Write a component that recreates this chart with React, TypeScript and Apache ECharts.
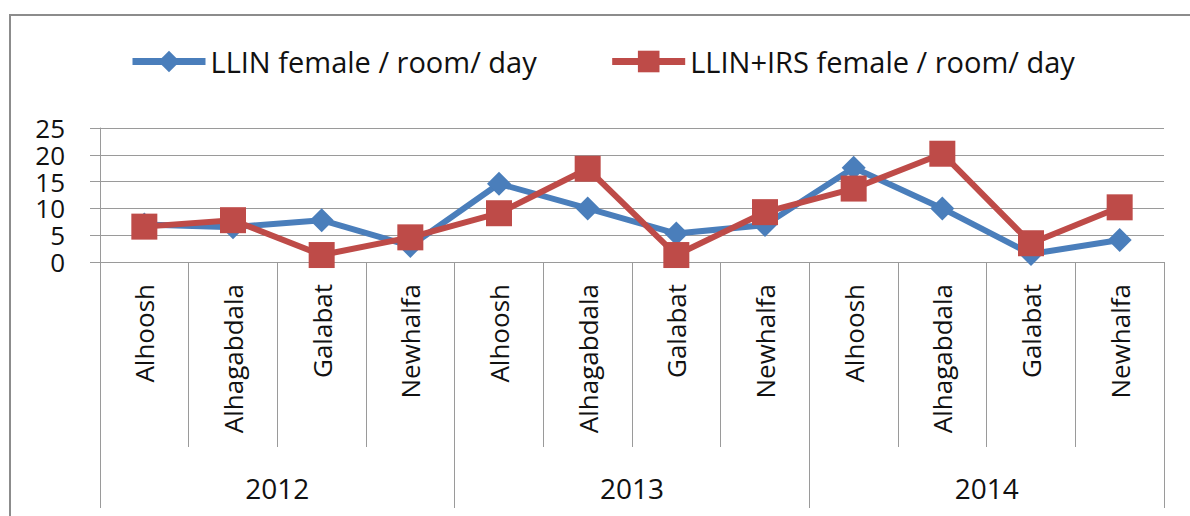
import React, { useEffect, useRef } from "react";
import * as echarts from "echarts";

const sites = ["Alhoosh", "Alhagabdala", "Galabat", "Newhalfa", "Alhoosh", "Alhagabdala", "Galabat", "Newhalfa", "Alhoosh", "Alhagabdala", "Galabat", "Newhalfa"];
const years = ["2012", "2013", "2014"];
const llin = [7.0, 6.5, 7.8, 3.0, 14.6, 10.0, 5.3, 6.9, 17.6, 10.0, 1.5, 4.1];
const llinIrs = [6.6, 7.8, 1.3, 4.6, 9.1, 17.4, 1.3, 9.3, 13.7, 20.2, 3.5, 10.2];
const yTicks = { min: 0, max: 25, interval: 5 };

const FONT = "Open Sans";

export default function App() {
  const ref = useRef<HTMLDivElement>(null);
  useEffect(() => {
    document.body.style.margin = "0";
    const chart = echarts.init(ref.current!, null, { renderer: "svg" });
    chart.setOption({
      animation: false,
      backgroundColor: "#fff",
      textStyle: { fontFamily: FONT },
      graphic: [
        {
          type: "rect",
          shape: { x: 10, y: 15, width: 1200, height: 520 },
          style: { fill: "none", stroke: "#8c8c8c", lineWidth: 2 },
          silent: true,
        },
      ],
      legend: {
        left: 124,
        top: 42,
        itemWidth: 73,
        itemHeight: 27,
        itemGap: 72,
        lineStyle: { width: 7 },
        textStyle: { fontSize: 29, color: "#111", fontFamily: FONT },
        data: ["LLIN female / room/ day", "LLIN+IRS female / room/ day"],
      },
      grid: { left: 100, top: 128, width: 1064, height: 134, containLabel: false },
      xAxis: [
        {
          type: "category",
          data: sites,
          position: "bottom",
          axisLine: { lineStyle: { color: "#9a9a9a", width: 1 } },
          axisTick: { show: true, interval: 0, length: 185, lineStyle: { color: "#9a9a9a" } },
          axisLabel: { interval: 0, rotate: 90, margin: 22, fontSize: 26, color: "#111", fontFamily: FONT },
        },
        {
          type: "category",
          data: years,
          position: "bottom",
          axisLine: { show: false },
          axisTick: { show: true, interval: 0, length: 246, lineStyle: { color: "#9a9a9a" } },
          axisLabel: { interval: 0, margin: 212, fontSize: 28, color: "#111", fontFamily: FONT },
        },
      ],
      yAxis: {
        type: "value",
        min: yTicks.min,
        max: yTicks.max,
        interval: yTicks.interval,
        axisLine: { show: true, lineStyle: { color: "#9a9a9a" } },
        axisTick: { show: true, length: 10, lineStyle: { color: "#9a9a9a" } },
        axisLabel: {
          margin: 35,
          fontSize: 26,
          lineHeight: 22,
          color: "#111",
          fontFamily: FONT,
          hideOverlap: false,
          showMinLabel: true,
          showMaxLabel: true,
        },
        splitLine: { lineStyle: { color: "#9a9a9a", width: 1 } },
      },
      series: [
        {
          name: "LLIN female / room/ day",
          type: "line",
          xAxisIndex: 0,
          data: llin,
          symbol: "diamond",
          symbolSize: 24,
          lineStyle: { color: "#4a7ebb", width: 6 },
          itemStyle: { color: "#4a7ebb" },
        },
        {
          name: "LLIN+IRS female / room/ day",
          type: "line",
          xAxisIndex: 0,
          data: llinIrs,
          symbol: "rect",
          symbolSize: 26,
          lineStyle: { color: "#be4b48", width: 6 },
          itemStyle: { color: "#be4b48" },
        },
      ],
    });
    return () => chart.dispose();
  }, []);
  return <div ref={ref} style={{ width: 1190, height: 516 }} />;
}
